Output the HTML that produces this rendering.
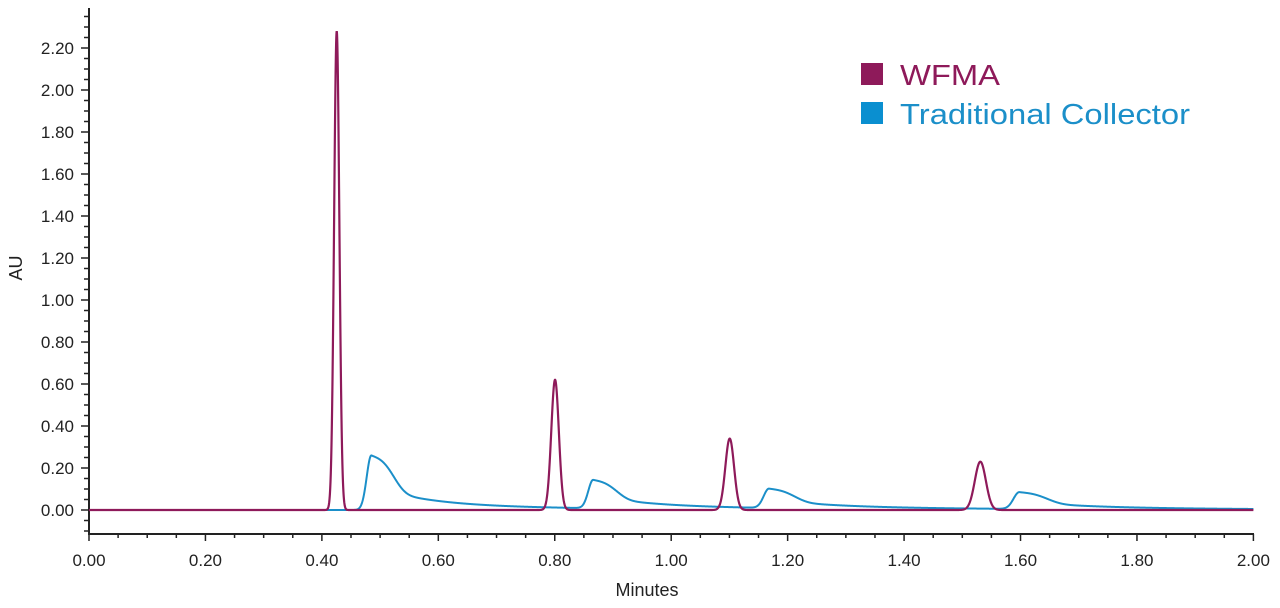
<!DOCTYPE html>
<html><head><meta charset="utf-8"><style>
body{margin:0;background:#fff;}
svg{display:block;font-family:"Liberation Sans",Arial,sans-serif;}
</style></head><body>
<svg id="c" width="1280" height="608" xmlns="http://www.w3.org/2000/svg">
<g id="axes" stroke="#222" stroke-width="2" fill="none">
<line x1="89" y1="8" x2="89" y2="535"/>
<line x1="88" y1="534" x2="1254" y2="534"/>
</g>
<g id="ticks" stroke="#222" stroke-width="1.5"></g>
<g id="labels" font-size="17" fill="#222"></g>
<text x="647" y="596" font-size="18" fill="#222" text-anchor="middle">Minutes</text>
<text transform="translate(22,268) rotate(-90)" font-size="18" fill="#222" text-anchor="middle">AU</text>
<path id="blue" fill="none" stroke="#1b8fc9" stroke-width="2"/>
<path id="red" fill="none" stroke="#8e1a5a" stroke-width="2.2"/>
<rect x="861" y="63" width="22" height="22" fill="#8e1a5a"/>
<rect x="861" y="102" width="22" height="22" fill="#0a8fd0"/>
<text x="900" y="85" font-size="29" fill="#8e1a5a" textLength="100" lengthAdjust="spacingAndGlyphs">WFMA</text>
<text x="900" y="124" font-size="29" fill="#1b8fc9" textLength="290" lengthAdjust="spacingAndGlyphs">Traditional Collector</text>
</svg>
<script>
const X=t=>89+t*582.2, Y=v=>510-v*210;
const tk=document.getElementById('ticks'), lb=document.getElementById('labels');
let s='',l='';
for(let i=0;i<=40;i++){const t=i*0.05,x=X(t),maj=i%4==0;
 s+=`<line x1="${x}" y1="534" x2="${x}" y2="${maj?541:538}"/>`;
 if(maj) l+=`<text x="${x}" y="566" text-anchor="middle">${t.toFixed(2)}</text>`;}
for(let i=-2;i<=47;i++){const v=i*0.05,y=Y(v);if(y<9)continue;const maj=i%4==0;
 s+=`<line x1="${maj?81:84}" y1="${y}" x2="89" y2="${y}"/>`;
 if(maj&&i>=0) l+=`<text x="74" y="${y+6}" text-anchor="end">${v.toFixed(2)}</text>`;}
tk.innerHTML=s; lb.innerHTML=l;
const red=[[0.4255,2.28,0.0045],[0.8005,0.62,0.0065],[1.1005,0.34,0.0075],[1.531,0.23,0.0095]];
const blue=[[0.485,0.26,1],[0.866,0.135,1.05],[1.168,0.092,1.15],[1.598,0.08,1.25]];
function r(t){let v=0;for(const[p,a,sg]of red)v+=a*Math.exp(-0.5*((t-p)/sg)**2);return v;}
function b(t){let v=0;for(const[p,a,k]of blue){const d=t-p;
 if(d<0)v+=a*Math.exp(-0.5*(d/(0.008*k))**2);
 else v+=a*(0.55*Math.exp(-((d/(0.045*k))**3))+0.35*Math.exp(-d/(0.09*k))+0.1*Math.exp(-d/(0.3*k)));}return v;}
let pr='',pb='';
for(let i=0;i<=8000;i++){const t=i/4000;pr+=(i?'L':'M')+X(t).toFixed(2)+' '+Y(r(t)).toFixed(2);
 pb+=(i?'L':'M')+X(t).toFixed(2)+' '+Y(b(t)).toFixed(2);}
document.getElementById('red').setAttribute('d',pr);
document.getElementById('blue').setAttribute('d',pb);
</script>
</body></html>
